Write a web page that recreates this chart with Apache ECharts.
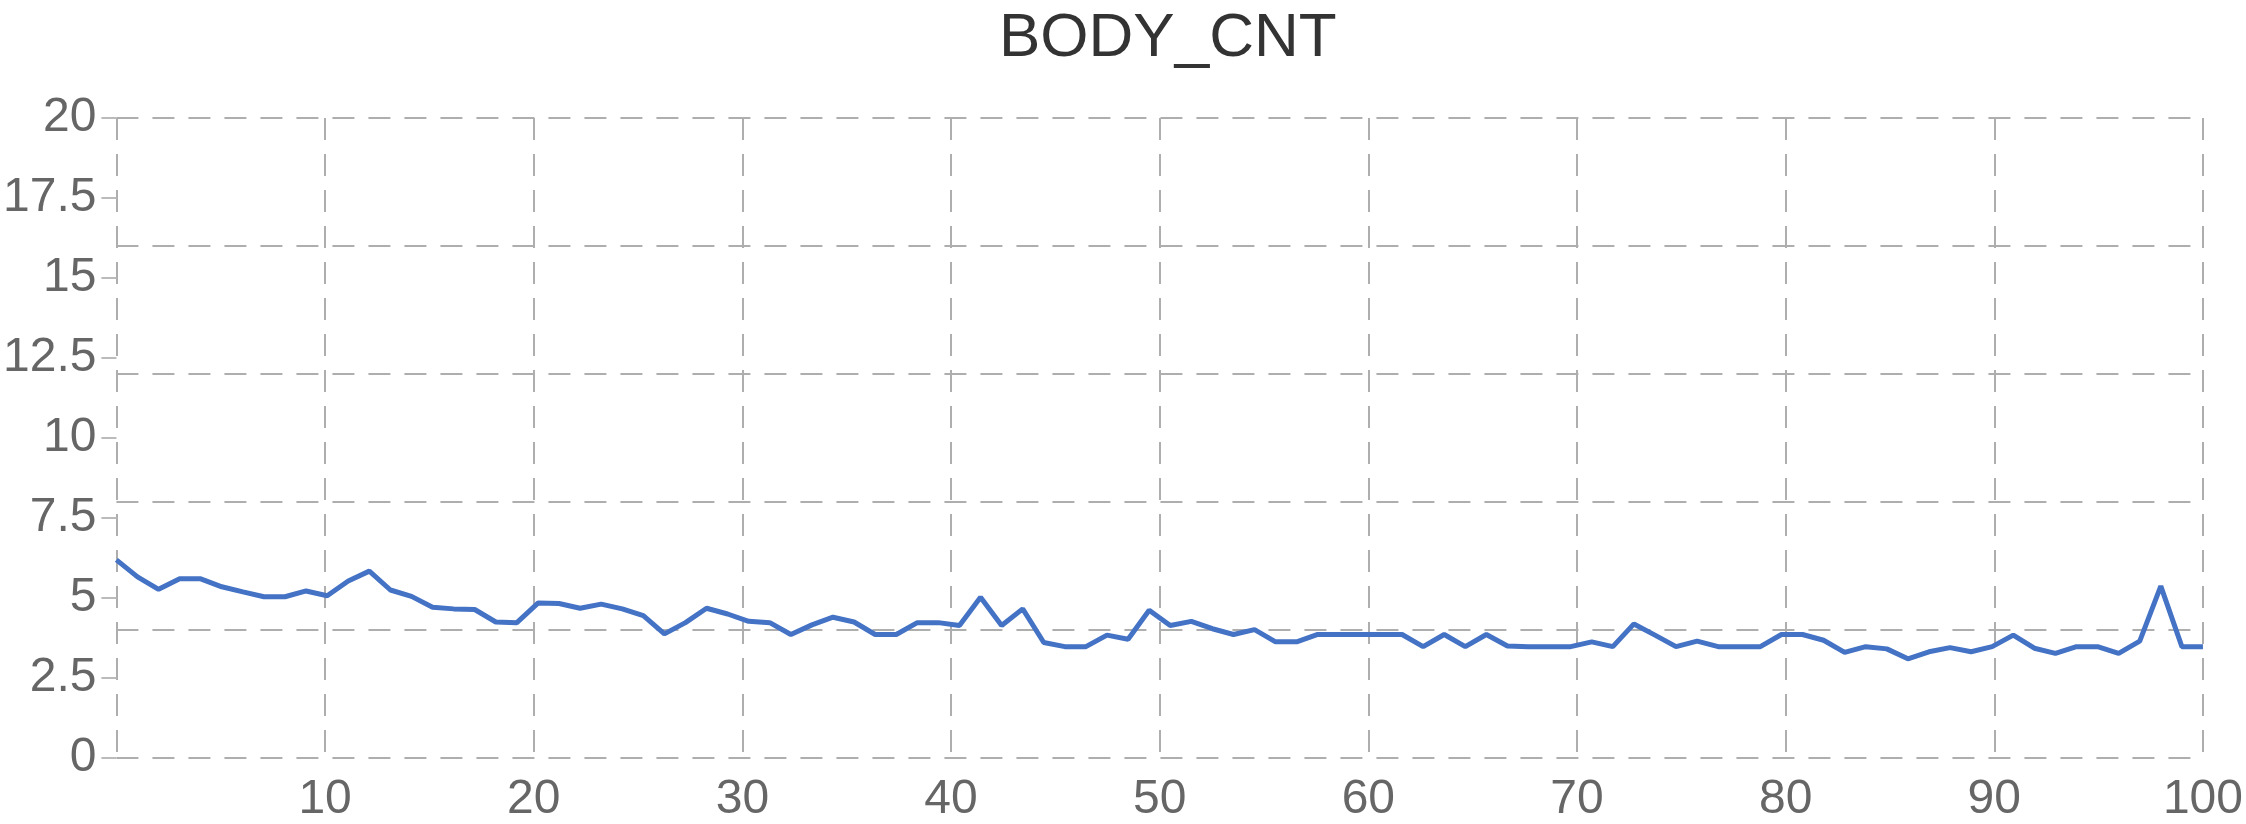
<!DOCTYPE html>
<html>
<head>
<meta charset="utf-8">
<title>BODY_CNT</title>
<script src="https://cdn.jsdelivr.net/npm/echarts@6/dist/echarts.min.js"></script>
<style>
  html, body { margin: 0; padding: 0; background: #fff; }
  #chart { width: 2246px; height: 824px; }
</style>
</head>
<body>
<div id="chart"></div>
<script>
// x tick labels (value axis 0..100, every 10)
var xTicks = [0, 10, 20, 30, 40, 50, 60, 70, 80, 90, 100];
// y tick labels
var yTicks = [0, 2.5, 5, 7.5, 10, 12.5, 15, 17.5, 20];

// sample index 1..100, spread across the whole plot width
var categories = [];
for (var i = 1; i <= 100; i++) categories.push(String(i));

// BODY_CNT values
var bodyCnt = [
  6.19, 5.66, 5.27, 5.6, 5.6, 5.35, 5.19, 5.04, 5.04, 5.22,
  5.07, 5.53, 5.84, 5.25, 5.05, 4.71, 4.66, 4.64, 4.25, 4.23,
  4.84, 4.83, 4.68, 4.81, 4.66, 4.45, 3.88, 4.23, 4.68, 4.5,
  4.27, 4.23, 3.86, 4.16, 4.4, 4.25, 3.86, 3.86, 4.23, 4.23,
  4.14, 5.02, 4.14, 4.66, 3.61, 3.48, 3.48, 3.84, 3.71, 4.62,
  4.14, 4.27, 4.04, 3.86, 4.01, 3.63, 3.63, 3.86, 3.86, 3.86,
  3.86, 3.86, 3.48, 3.86, 3.48, 3.86, 3.5, 3.48, 3.48, 3.48,
  3.63, 3.48, 4.19, 3.84, 3.48, 3.65, 3.48, 3.48, 3.48, 3.86,
  3.86, 3.68, 3.3, 3.48, 3.41, 3.1, 3.32, 3.45, 3.32, 3.48,
  3.84, 3.43, 3.27, 3.48, 3.48, 3.27, 3.65, 5.37, 3.48, 3.48
];

var gridLine = { show: true, lineStyle: { color: "#aeaeae", width: 2, type: [22, 14] } };
var labelFont = { fontFamily: "Liberation Sans, Arial, sans-serif", fontSize: 48, color: "#666" };

var chart = echarts.init(document.getElementById("chart"));
var option = {
  animation: false,
  backgroundColor: "#fff",
  title: {
    text: "BODY_CNT",
    left: 994,
    top: 3,
    textStyle: {
      fontFamily: "Liberation Sans, Arial, sans-serif",
      fontSize: 62,
      fontWeight: "normal",
      color: "#333"
    }
  },
  grid: { left: 115, right: 40, top: 118, bottom: 63, containLabel: false },
  xAxis: [
    {
      // data positions
      type: "category",
      data: categories,
      boundaryGap: false,
      show: false
    },
    {
      // visible scale and vertical grid
      type: "value",
      min: xTicks[0],
      max: xTicks[xTicks.length - 1],
      interval: xTicks[1] - xTicks[0],
      position: "bottom",
      axisLine: { show: false },
      axisTick: { show: false },
      axisLabel: Object.assign({ margin: 18, showMinLabel: false }, labelFont),
      splitLine: gridLine
    }
  ],
  yAxis: [
    {
      type: "value",
      min: yTicks[0],
      max: yTicks[yTicks.length - 1],
      interval: yTicks[1] - yTicks[0],
      position: "left",
      axisLine: { show: false },
      axisTick: { show: true, length: 15, lineStyle: { color: "#bbb", width: 2 } },
      axisLabel: Object.assign({ margin: 20 }, labelFont),
      splitLine: { show: false }
    },
    {
      // horizontal grid every 4
      type: "value",
      min: 0,
      max: 20,
      interval: 4,
      position: "left",
      axisLine: { show: false },
      axisTick: { show: false },
      axisLabel: { show: false },
      splitLine: gridLine
    }
  ],
  series: [
    {
      name: "BODY_CNT",
      type: "line",
      xAxisIndex: 0,
      yAxisIndex: 0,
      data: bodyCnt,
      showSymbol: false,
      lineStyle: { color: "#4472c4", width: 5 },
      itemStyle: { color: "#4472c4" }
    }
  ]
};
chart.setOption(option);
</script>
</body>
</html>
